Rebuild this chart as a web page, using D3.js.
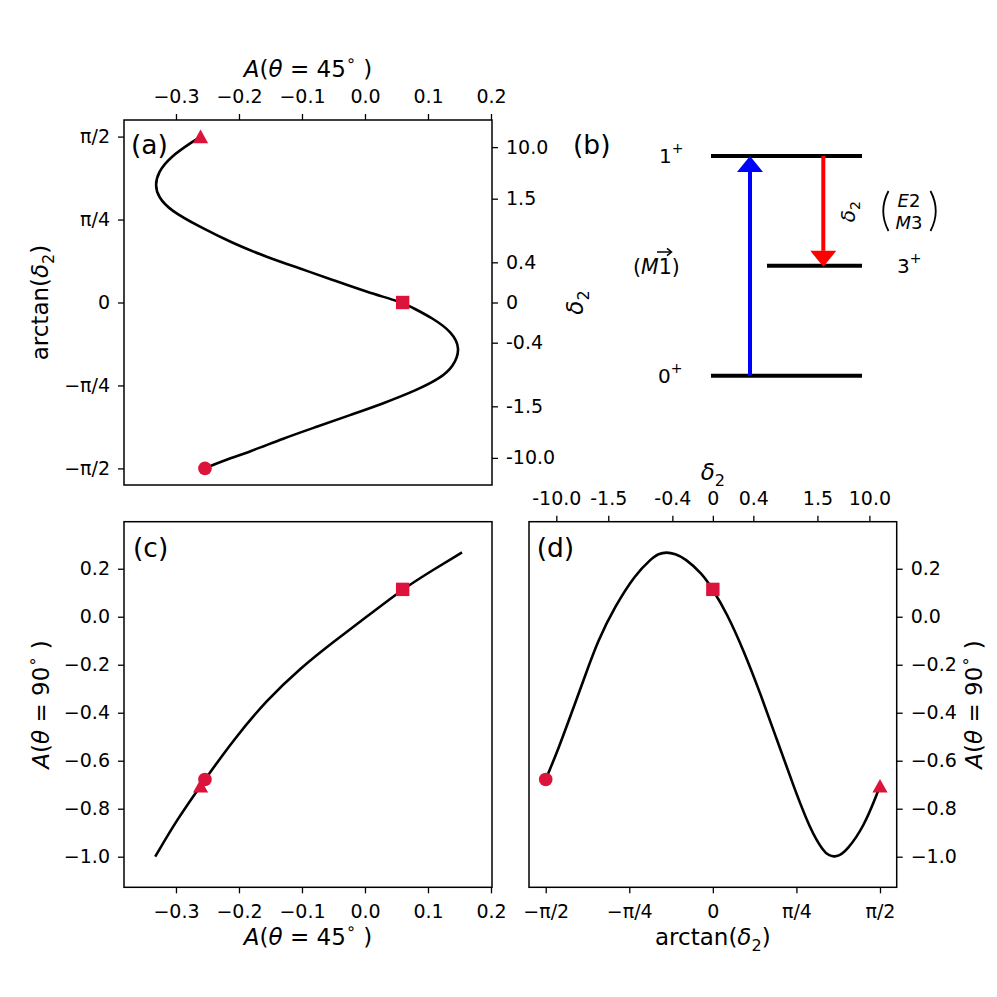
<!DOCTYPE html>
<html>
<head>
<meta charset="utf-8">
<script src="https://cdn.jsdelivr.net/npm/d3@7"></script>
<style>
body { margin: 0; background: #fff; }
text { font-family: 'DejaVu Sans', sans-serif; }
</style>
</head>
<body>
<svg id="fig" width="997" height="997"></svg>
<script>
// ---- data ----
// panel (a): A(45deg) against arctan(delta2)
var thetaA = [-1.5708, -1.508, -1.413, -1.287, -1.177, -1.066, -0.956, -0.830, -0.719, -0.609, -0.435, -0.278, -0.151, -0.042,
              0, 0.100, 0.211, 0.322, 0.431, 0.558, 0.715, 0.873, 0.999, 1.110, 1.236, 1.378, 1.536, 1.5708];
var a45A = [-0.254, -0.230, -0.1825, -0.1297, -0.0767, -0.0238, 0.029, 0.0821, 0.119, 0.1402, 0.152, 0.1376, 0.1084, 0.073,
            0.0598, 0.0027, -0.050, -0.103, -0.156, -0.209, -0.262, -0.3095, -0.328, -0.3333, -0.328, -0.3095, -0.270, -0.261];

// panel (d): A(90deg) against arctan(delta2)
var thetaD = [-1.5708, -1.455, -1.329, -1.204, -1.078, -0.921, -0.733, -0.575, -0.513, -0.434, -0.355, -0.261, -0.104, 0,
              0.132, 0.288, 0.446, 0.603, 0.760, 0.917, 1.042, 1.090, 1.137, 1.184, 1.263, 1.419, 1.546, 1.5708];
var a90D = [-0.678, -0.555, -0.4025, -0.25, -0.097, 0.0417, 0.174, 0.2433, 0.262, 0.270, 0.262, 0.2433, 0.181, 0.114,
            0.014, -0.139, -0.319, -0.514, -0.708, -0.889, -0.979, -0.994, -1.0, -0.997, -0.972, -0.875, -0.735, -0.705];

// panel (c): A(90deg) against A(45deg)
var a45C = [-0.333, -0.299, -0.254, -0.209, -0.156, -0.103, -0.050, 0.003, 0.059, 0.108, 0.154];
var a90C = [-1.0, -0.847, -0.678, -0.514, -0.347, -0.215, -0.104, 0.0, 0.114, 0.195, 0.268];

// special points: delta2 -> -inf, 0, +inf
var markerShape = ['circle', 'square', 'triangle'];
var markerTheta = [-1.5708, 0, 1.5708];
var markerA45 = [-0.254, 0.0598, -0.261];
var markerA90 = [-0.678, 0.114, -0.705];

// ticks
var piTicks = [-1.5708, -0.7854, 0, 0.7854, 1.5708];
var piLabels = ['\u2212\u03c0/2', '\u2212\u03c0/4', '0', '\u03c0/4', '\u03c0/2'];
var deltaTicks = [-10, -1.5, -0.4, 0, 0.4, 1.5, 10];
var deltaLabels = ['-10.0', '-1.5', '-0.4', '0', '0.4', '1.5', '10.0'];
var a45Ticks = [-0.3, -0.2, -0.1, 0.0, 0.1, 0.2];
var a90Ticks = [-1.0, -0.8, -0.6, -0.4, -0.2, 0.0, 0.2];

// level scheme (b)
var levelJ = ['0', '1', '3'];
var levelE = [0, 1, 0.5];

// ---- drawing ----
var svg = d3.select('#fig');
var red = '#DC143C';
var TICK = 19, LAB = 23, PANEL = 26.5;

// text with italic / sub / sup pieces
function rich(sel, pieces, size) {
    var shift = 0;
    pieces.forEach(function(p) {
        var s = p.sub ? size * 0.24 : (p.sup ? -size * 0.48 : 0);
        var ts = sel.append('tspan').text(p.t).attr('dy', s - shift);
        if (p.sub || p.sup) ts.attr('font-size', size * 0.7);
        if (p.it) ts.attr('font-style', 'italic');
        shift = s;
    });
    return sel;
}

var labA45 = [{t: 'A', it: 1}, {t: '('}, {t: '\u03b8', it: 1}, {t: ' = 45'}, {t: '\u2218', sup: 1}, {t: ' )'}];
var labA90 = [{t: 'A', it: 1}, {t: '('}, {t: '\u03b8', it: 1}, {t: ' = 90'}, {t: '\u2218', sup: 1}, {t: ' )'}];
var labDelta = [{t: '\u03b4', it: 1}, {t: '2', sub: 1}];
var labArctan = [{t: 'arctan('}, {t: '\u03b4', it: 1}, {t: '2', sub: 1}, {t: ')'}];

function label(x, y, pieces, size, rot, anchor) {
    var t = svg.append('text')
        .attr('transform', 'translate(' + x + ',' + y + ')' + (rot ? ' rotate(' + rot + ')' : ''))
        .attr('text-anchor', anchor || 'middle')
        .attr('font-size', size)
        .attr('fill', '#000');
    return rich(t, pieces, size);
}

function styleAxis(g) {
    g.select('.domain').remove();
    g.attr('font-size', TICK).attr('font-family', "'DejaVu Sans', sans-serif");
    g.selectAll('.tick line').attr('stroke', '#000').attr('stroke-width', 1.3);
    g.selectAll('.tick text').attr('fill', '#000');
}

function addAxis(axis, tx, ty) {
    var g = svg.append('g')
        .attr('transform', 'translate(' + tx + ',' + ty + ')')
        .call(axis);
    styleAxis(g);
    return g;
}

function frame(x0, x1, y0, y1) {
    svg.append('rect')
        .attr('x', x0).attr('y', y0)
        .attr('width', x1 - x0).attr('height', y1 - y0)
        .attr('fill', 'none').attr('stroke', '#000').attr('stroke-width', 1.5);
}

function curve(xs, ys, sx, sy) {
    var line = d3.line()
        .x(function(d) { return sx(d[0]); })
        .y(function(d) { return sy(d[1]); })
        .curve(d3.curveBasis);
    svg.append('path')
        .datum(xs.map(function(v, i) { return [v, ys[i]]; }))
        .attr('d', line)
        .attr('fill', 'none')
        .attr('stroke', '#000')
        .attr('stroke-width', 2.6);
}

function markers(xs, ys, sx, sy) {
    markerShape.forEach(function(shape, i) {
        var cx = sx(xs[i]), cy = sy(ys[i]);
        if (shape === 'circle') {
            svg.append('circle').attr('cx', cx).attr('cy', cy).attr('r', 6.8).attr('fill', red);
        } else if (shape === 'square') {
            svg.append('rect').attr('x', cx - 6.7).attr('y', cy - 6.7)
                .attr('width', 13.4).attr('height', 13.4).attr('fill', red);
        } else {
            svg.append('path')
                .attr('d', 'M' + cx + ',' + (cy - 7) + 'L' + (cx + 7.6) + ',' + (cy + 6.6) + 'L' + (cx - 7.6) + ',' + (cy + 6.6) + 'Z')
                .attr('fill', red);
        }
    });
}

var f1 = d3.format('.1f');
var atanTicks = deltaTicks.map(function(d) { return Math.atan(d); });

// ---------- panel (a) ----------
var xA = d3.scaleLinear().domain([-0.3825, 0.2016]).range([124, 492]);
var yA = d3.scaleLinear().domain([-0.55 * Math.PI, 0.55 * Math.PI]).range([485, 120]);

addAxis(d3.axisTop(xA).tickValues(a45Ticks).tickFormat(f1).tickSize(6).tickPadding(11), 0, 120);
addAxis(d3.axisLeft(yA).tickValues(piTicks).tickFormat(function(d, i) { return piLabels[i]; })
    .tickSize(6).tickPadding(8), 124, 0);
addAxis(d3.axisRight(yA).tickValues(atanTicks).tickFormat(function(d, i) { return deltaLabels[i]; })
    .tickSize(6).tickPadding(8), 492, 0);

curve(a45A, thetaA, xA, yA);
markers(markerA45, markerTheta, xA, yA);
frame(124, 492, 120, 485);

label(308, 77, labA45, LAB);
label(48, 302.5, labArctan, LAB, -90);
label(583, 302.5, labDelta, LAB, -90);
svg.append('text').attr('x', 131).attr('y', 153.5).attr('font-size', PANEL).text('(a)');

// ---------- panel (c) ----------
var xC = d3.scaleLinear().domain([-0.3825, 0.2016]).range([124, 492]);
var yC = d3.scaleLinear().domain([-1.1275, 0.396]).range([887.3, 521.7]);

addAxis(d3.axisBottom(xC).tickValues(a45Ticks).tickFormat(f1).tickSize(6).tickPadding(11), 0, 887.3);
addAxis(d3.axisLeft(yC).tickValues(a90Ticks).tickFormat(f1).tickSize(6).tickPadding(8), 124, 0);

curve(a45C, a90C, xC, yC);
markers(markerA45, markerA90, xC, yC);
frame(124, 492, 521.7, 887.3);

label(308, 945, labA45, LAB);
label(49, 704.5, labA90, LAB, -90);
svg.append('text').attr('x', 133).attr('y', 557).attr('font-size', PANEL).text('(c)');

// ---------- panel (d) ----------
var xD = d3.scaleLinear().domain([-0.55 * Math.PI, 0.55 * Math.PI]).range([529, 896.7]);
var yD = d3.scaleLinear().domain([-1.1275, 0.396]).range([887.3, 521.7]);

addAxis(d3.axisBottom(xD).tickValues(piTicks).tickFormat(function(d, i) { return piLabels[i]; })
    .tickSize(6).tickPadding(11), 0, 887.3);
addAxis(d3.axisTop(xD).tickValues(atanTicks).tickFormat(function(d, i) { return deltaLabels[i]; })
    .tickSize(6).tickPadding(11), 0, 521.7);
addAxis(d3.axisRight(yD).tickValues(a90Ticks).tickFormat(f1).tickSize(6).tickPadding(8), 896.7, 0);

curve(thetaD, a90D, xD, yD);
markers(markerTheta, markerA90, xD, yD);
frame(529, 896.7, 521.7, 887.3);

label(712.85, 945, labArctan, LAB);
label(712.85, 480, labDelta, LAB);
label(982, 704.5, labA90, LAB, -90);
svg.append('text').attr('x', 536.7).attr('y', 557).attr('font-size', PANEL).text('(d)');

// ---------- panel (b): level scheme ----------
var yB = d3.scaleLinear().domain([0, 1]).range([375.7, 156]);
var levelX0 = {'0': 711, '1': 711, '3': 767};
var levelLabelX = {'0': 658, '1': 659, '3': 897};

levelJ.forEach(function(j, i) {
    var y = yB(levelE[i]);
    svg.append('line')
        .attr('x1', levelX0[j]).attr('x2', 862)
        .attr('y1', y).attr('y2', y)
        .attr('stroke', '#000').attr('stroke-width', 4);
    label(levelLabelX[j], y + 7, [{t: j}, {t: '+', sup: 1}], 20, 0, 'start');
});

function arrow(x, yFrom, yTo, color) {
    var dir = yTo < yFrom ? -1 : 1;
    var head = 16;
    svg.append('line')
        .attr('x1', x).attr('x2', x)
        .attr('y1', yFrom).attr('y2', yTo - dir * head)
        .attr('stroke', color).attr('stroke-width', 4);
    svg.append('path')
        .attr('d', 'M' + x + ',' + yTo + 'L' + (x + 13) + ',' + (yTo - dir * head) + 'L' + (x - 13) + ',' + (yTo - dir * head) + 'Z')
        .attr('fill', color);
}
arrow(750, yB(0), yB(1), '#0000ff');
arrow(823.3, yB(1), yB(0.5) + 1, '#ff0000');

// (M1 vec)
var m1 = svg.append('text').attr('x', 633).attr('y', 273.5).attr('font-size', 20.5);
rich(m1, [{t: '('}, {t: 'M', it: 1}, {t: '1'}, {t: ')'}], 20.5);
svg.append('path').attr('d', 'M657,252L671,252').attr('stroke', '#000').attr('stroke-width', 1.5);
svg.append('path').attr('d', 'M667,248.3L671.5,252L667,255.7').attr('fill', 'none').attr('stroke', '#000').attr('stroke-width', 1.5);

// delta2 on the red arrow
label(855, 211.7, labDelta, 20, -90);

// (E2 over M3)
svg.append('text').attr('x', 909).attr('y', 206.7).attr('font-size', 18).attr('text-anchor', 'middle')
    .call(function(t) { rich(t, [{t: 'E', it: 1}, {t: '2'}], 18); });
svg.append('text').attr('x', 909).attr('y', 228.5).attr('font-size', 18).attr('text-anchor', 'middle')
    .call(function(t) { rich(t, [{t: 'M', it: 1}, {t: '3'}], 18); });
svg.append('path').attr('d', 'M888.5,191Q878,211 888.5,231').attr('fill', 'none').attr('stroke', '#000').attr('stroke-width', 1.8);
svg.append('path').attr('d', 'M930.5,191Q941,211 930.5,231').attr('fill', 'none').attr('stroke', '#000').attr('stroke-width', 1.8);

svg.append('text').attr('x', 573).attr('y', 154).attr('font-size', PANEL).text('(b)');
</script>
</body>
</html>
